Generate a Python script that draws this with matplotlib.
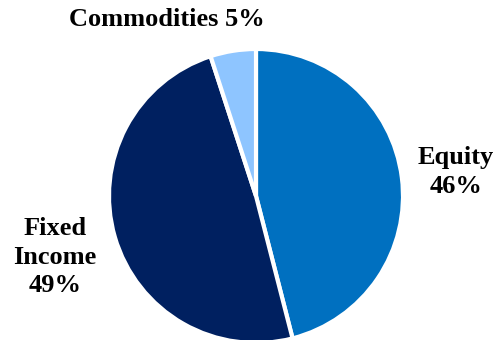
import matplotlib
matplotlib.use("Agg")
import matplotlib.pyplot as plt

labels = ["Equity", "Fixed Income", "Commodities"]
values = [46, 49, 5]
colors = ["#0070C0", "#002060", "#8EC5FF"]

W, H = 497, 340
fig = plt.figure(figsize=(W / 100, H / 100), dpi=100)
ax = fig.add_axes([0, 0, 1, 1])
ax.pie(values, colors=colors, startangle=90, counterclock=False,
       center=(256, H - 196), radius=147,
       wedgeprops=dict(edgecolor="white", linewidth=3))
ax.set_xlim(0, W)
ax.set_ylim(0, H)
ax.set_aspect("equal")
ax.axis("off")

font = dict(family="Liberation Serif", fontweight="bold", fontsize=19, color="black")
ax.text(167, H - 19, f"{labels[2]} {values[2]}%", ha="center", va="center", **font)
ax.text(456, H - 172, f"{labels[0]}\n{values[0]}%", ha="center", va="center", linespacing=1.3, **font)
ax.text(55, H - 257, "Fixed\nIncome\n" + f"{values[1]}%", ha="center", va="center", linespacing=1.3, **font)

fig.savefig("out.png", dpi=100)
